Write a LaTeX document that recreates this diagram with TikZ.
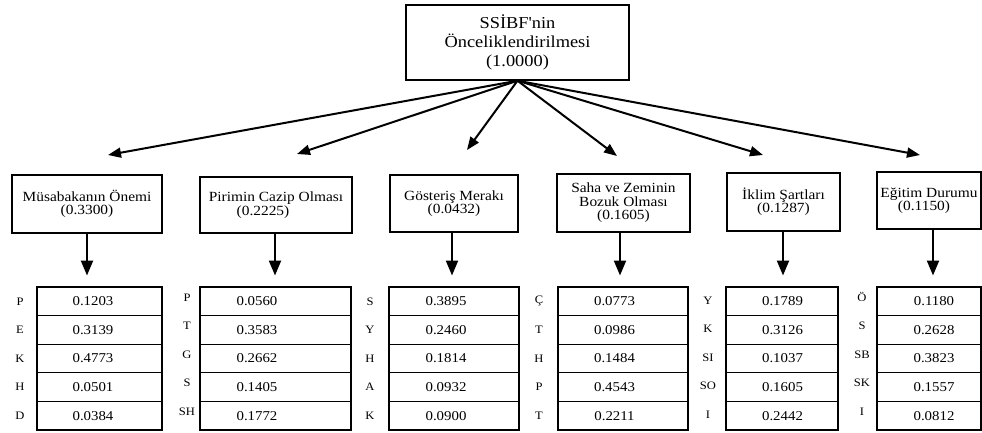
\documentclass[tikz,border=0pt]{standalone}
\usepackage{fontspec}
\setmainfont{Liberation Serif}[FakeStretch=1.1, Ligatures=TeXOff]
\usetikzlibrary{arrows.meta}
\tikzset{
  box/.style={draw, line width=1.4pt, inner sep=0pt, align=center},
  toptext/.style={font=\fontsize{16.7}{19}\selectfont},
  midtext/.style={font=\fontsize{14}{13.4}\selectfont},
  rowbox/.style={draw, line width=1.3pt, inner sep=0pt, minimum height=28.6pt},
  valtext/.style={font=\fontsize{13.5}{14}\selectfont, inner sep=0pt},
  labtext/.style={font=\fontsize{11.4}{12}\selectfont, inner sep=0pt},
  toparrow/.style={line width=2pt, -{Triangle[length=13pt,width=10pt]}},
  downarrow/.style={line width=2.2pt, -{Triangle[length=15pt,width=12pt]}}
}
\newcommand\mkweighttable[7]{%
  \foreach \lab/\val [count=\i] in {#7}{%
    \pgfmathsetmacro\yc{287+28.6*(\i-0.5)}
    \node[rowbox, minimum width={#3-#2}] (t#1r\i) at ({(#2+#3)/2},\yc) {};
    \node[valtext] (t#1v\i) at (#4,\yc) {\val};
    \node[labtext] (t#1l\i) at (#5,\yc+#6) {\lab};
  }%
}
\begin{document}
\begin{tikzpicture}[x=1pt,y=-1pt]
\useasboundingbox (0,0) rectangle (982,432);

% top node
\node[box, toptext, minimum width=223pt, minimum height=75pt] (top) at (517.5,42.5)
  {SSİBF'nin\\Önceliklendirilmesi\\(1.0000)};

% criteria boxes
\node[box, midtext, minimum width=150pt, minimum height=58pt] (b1) at (87,204)
  {Müsabakanın Önemi\\(0.3300)};
\node[box, midtext, minimum width=152pt, minimum height=56pt] (b2) at (276,205)
  {Pirimin Cazip Olması\\(0.2225)\hspace*{26pt}};
\node[box, midtext, minimum width=128pt, minimum height=57pt] (b3) at (454,203.5)
  {Gösteriş Merakı\\(0.0432)};
\node[box, midtext, minimum width=133pt, minimum height=58pt] (b4) at (623.5,203)
  {Saha ve Zeminin\\Bozuk Olması\\(0.1605)};
\node[box, midtext, minimum width=113pt, minimum height=58pt] (b5) at (783.5,202)
  {İklim Şartları\\(0.1287)};
\node[box, midtext, minimum width=104pt, minimum height=57pt] (b6) at (929,200.5)
  {Eğitim Durumu\\(0.1150)\hspace*{10pt}};

% arrow tips from top
\coordinate (a1) at (108,155);
\coordinate (a2) at (297,154);
\coordinate (a3) at (467,150);
\coordinate (a4) at (617,156);
\coordinate (a5) at (763,155);
\coordinate (a6) at (920,155);
\foreach \k in {1,...,6}{\draw[toparrow] (top.south) -- (a\k);}

% down arrows
\coordinate (d1) at (87,275.5);
\coordinate (d2) at (275,275.5);
\coordinate (d3) at (452,275.5);
\coordinate (d4) at (620,275.5);
\coordinate (d5) at (783,275.5);
\coordinate (d6) at (933,275.5);
\foreach \k in {1,...,6}{\draw[downarrow] (d\k |- b\k.south) -- (d\k);}

% tables
\mkweighttable{1}{37}{162}{93}{20}{0}{P/0.1203,E/0.3139,K/0.4773,H/0.0501,D/0.0384}
\mkweighttable{2}{200}{351}{257}{187}{-4}{P/0.0560,T/0.3583,G/0.2662,S/0.1405,SH/0.1772}
\mkweighttable{3}{389}{519}{446}{370}{0}{S/0.3895,Y/0.2460,H/0.1814,A/0.0932,K/0.0900}
\mkweighttable{4}{558}{688}{614.5}{539}{0}{Ç/0.0773,T/0.0986,H/0.1484,P/0.4543,T/0.2211}
\mkweighttable{5}{726}{838}{782.5}{708}{-1}{Y/0.1789,K/0.3126,SI/0.1037,SO/0.1605,I/0.2442}
\mkweighttable{6}{877}{981}{934}{862}{-4}{Ö/0.1180,S/0.2628,SB/0.3823,SK/0.1557,I/0.0812}
\end{tikzpicture}
\end{document}
